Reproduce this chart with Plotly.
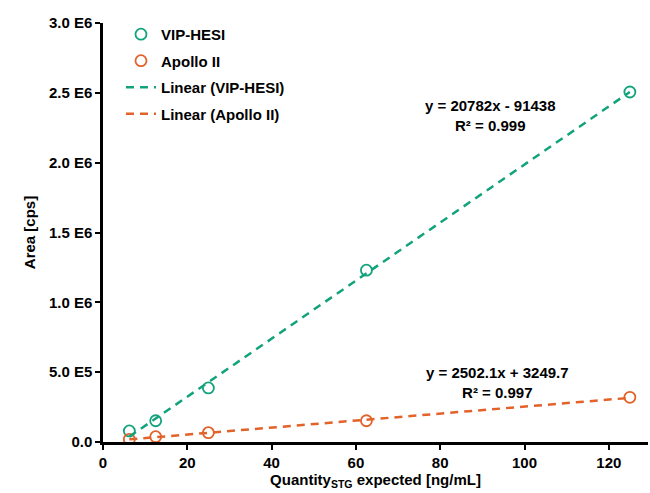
import plotly.graph_objects as go
import numpy as np

conc = [6.25, 12.5, 25, 62.5, 125]
vip_area = [79000, 152000, 387000, 1230000, 2506000]
apollo_area = [19000, 38000, 67000, 152000, 320000]
vip_fit = (20782, -91438)
apollo_fit = (2502.1, 3249.7)
y_ticks = [0, 5e5, 1e6, 1.5e6, 2e6, 2.5e6, 3e6]
y_ticklabels = ["0.0", "5.0 E5", "1.0 E6", "1.5 E6", "2.0 E6", "2.5 E6", "3.0 E6"]
x_ticks = [0, 20, 40, 60, 80, 100, 120]

green = "#12a37c"
orange = "#e2622a"
font = "Liberation Sans"
fs = 15

xfit = np.array([min(conc), max(conc)])

fig = go.Figure()
fig.add_trace(go.Scatter(x=conc, y=vip_area, mode="markers", name="<b>VIP-HESI</b>",
                         marker=dict(symbol="circle-open", size=11, color=green, line=dict(width=1.8)),
                         legendgroup="a"))
fig.add_trace(go.Scatter(x=conc, y=apollo_area, mode="markers", name="<b>Apollo II</b>",
                         marker=dict(symbol="circle-open", size=11, color=orange, line=dict(width=1.8)),
                         legendgroup="b"))
fig.add_trace(go.Scatter(x=xfit, y=vip_fit[0] * xfit + vip_fit[1], mode="lines",
                         name="<b>Linear (VIP-HESI)</b>",
                         line=dict(color=green, width=2.5, dash="8px,6px"), legendgroup="c"))
fig.add_trace(go.Scatter(x=xfit, y=apollo_fit[0] * xfit + apollo_fit[1], mode="lines",
                         name="<b>Linear (Apollo II)</b>",
                         line=dict(color=orange, width=2.5, dash="8px,6px"), legendgroup="d"))

fig.update_layout(
    width=650, height=493,
    margin=dict(l=103, r=2, t=23, b=51),
    paper_bgcolor="white", plot_bgcolor="white",
    font=dict(family=font, size=fs, color="black"),
    showlegend=True,
    legend=dict(x=0.033, y=1.012, xanchor="left", yanchor="top", traceorder="grouped",
                tracegroupgap=4, font=dict(size=fs, family=font), bgcolor="rgba(0,0,0,0)"),
    xaxis=dict(range=[0, 129.3], tickvals=x_ticks, ticktext=["<b>%d</b>" % v for v in x_ticks],
               showline=True, linecolor="black", linewidth=2.5, ticks="outside",
               tickcolor="black", tickwidth=2, ticklen=5, showgrid=False, zeroline=False,
               tickfont=dict(size=fs, family=font),
               title=dict(text="<b>Quantity<sub>STG</sub> expected [ng/mL]</b>", font=dict(size=fs), standoff=4)),
    yaxis=dict(range=[0, 3e6], tickvals=y_ticks, ticktext=["<b>%s</b>" % t for t in y_ticklabels],
               showline=True, linecolor="black", linewidth=2.5, ticks="outside",
               tickcolor="black", tickwidth=2, ticklen=5, showgrid=False, zeroline=False,
               tickfont=dict(size=fs, family=font),
               title=dict(text="<b>Area [cps]</b>", font=dict(size=fs), standoff=10)),
)

fig.add_annotation(x=92, y=2.34e6, xref="x", yref="y", showarrow=False,
                   text="<b>y = 20782x - 91438<br>R² = 0.999</b>", align="center",
                   font=dict(size=fs, family=font))
fig.add_annotation(x=93.5, y=4.25e5, xref="x", yref="y", showarrow=False,
                   text="<b>y = 2502.1x + 3249.7<br>R² = 0.997</b>", align="center",
                   font=dict(size=fs, family=font))

fig.write_html("out.html")
